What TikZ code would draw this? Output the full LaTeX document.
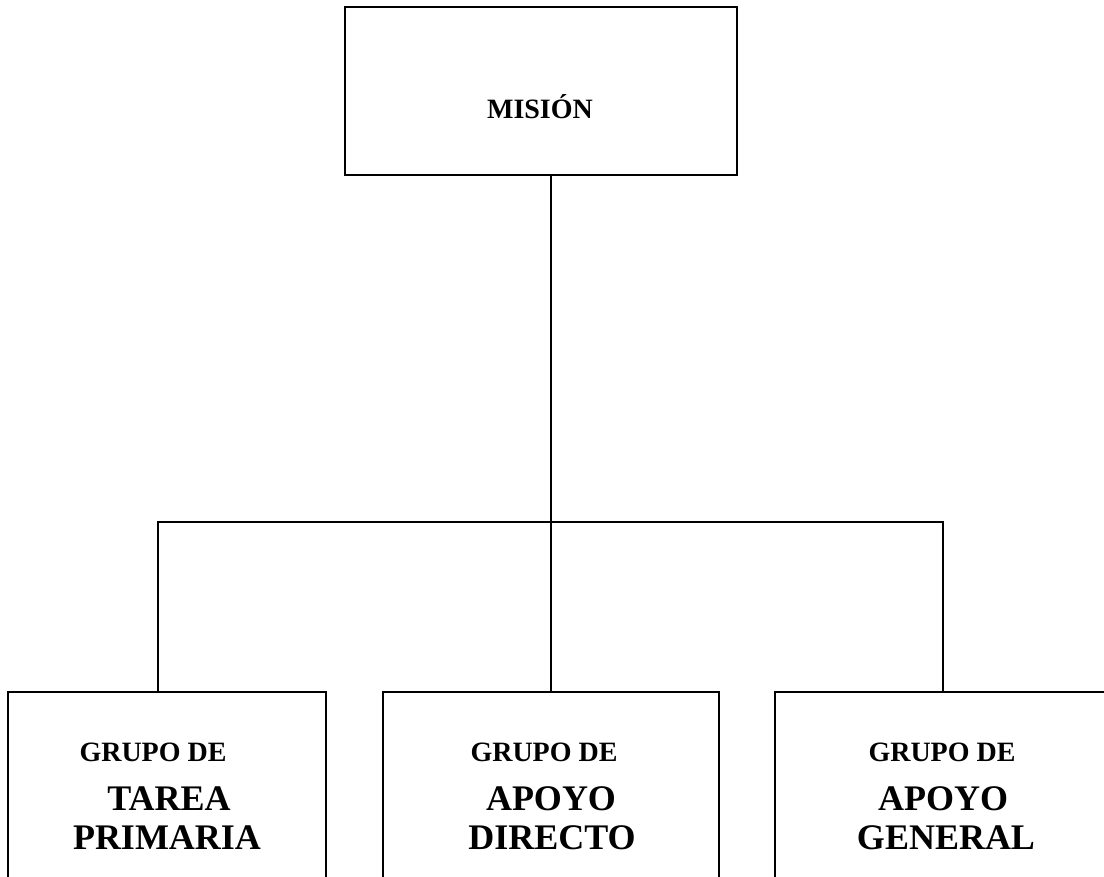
\documentclass[tikz,border=0pt]{standalone}
\usepackage{fontspec}
\setmainfont{Liberation Serif}

\begin{document}
\begin{tikzpicture}[x=1pt,y=-1pt,
 caja/.style={draw,line width=1.5pt,inner sep=0pt},
 chico/.style={font=\bfseries\fontsize{28}{32}\selectfont,anchor=base,inner sep=0pt},
 grande/.style={font=\bfseries\fontsize{36}{40}\selectfont,anchor=base,inner sep=0pt}]
 \useasboundingbox (0,0) rectangle (1104,877);

 \node[caja,minimum width=392,minimum height=168] (mision) at (541,91) {};
 \node[chico] (mt) at (540,119) {MISIÓN};

 \node[caja,minimum width=318,minimum height=220,anchor=north] (tarea) at (167,691) {};
 \node[caja,minimum width=336,minimum height=220,anchor=north] (directo) at (551,691) {};
 \node[caja,minimum width=336,minimum height=220,anchor=north] (general) at (943,691) {};

 \node[chico] (g1) at (153,761) {GRUPO DE};
 \node[grande] (t1) at (169,810) {TAREA};
 \node[grande] (p1) at (167,849) {PRIMARIA};

 \node[chico] (g2) at (544,761) {GRUPO DE};
 \node[grande] (a2) at (551,810) {APOYO};
 \node[grande] (d2) at (552,849) {DIRECTO};

 \node[chico] (g3) at (942,761) {GRUPO DE};
 \node[grande] (a3) at (943,810) {APOYO};
 \node[grande] (e3) at (946,849) {GENERAL};

 \coordinate (l) at (158,522);
 \coordinate (r) at (943,522);

 \draw[line width=1.5pt] (mision.south -| directo.north) -- (directo.north);
 \draw[line width=1.5pt] (l |- tarea.north) -- (l) -- (r) -- (r |- general.north);

\end{tikzpicture}
\end{document}
